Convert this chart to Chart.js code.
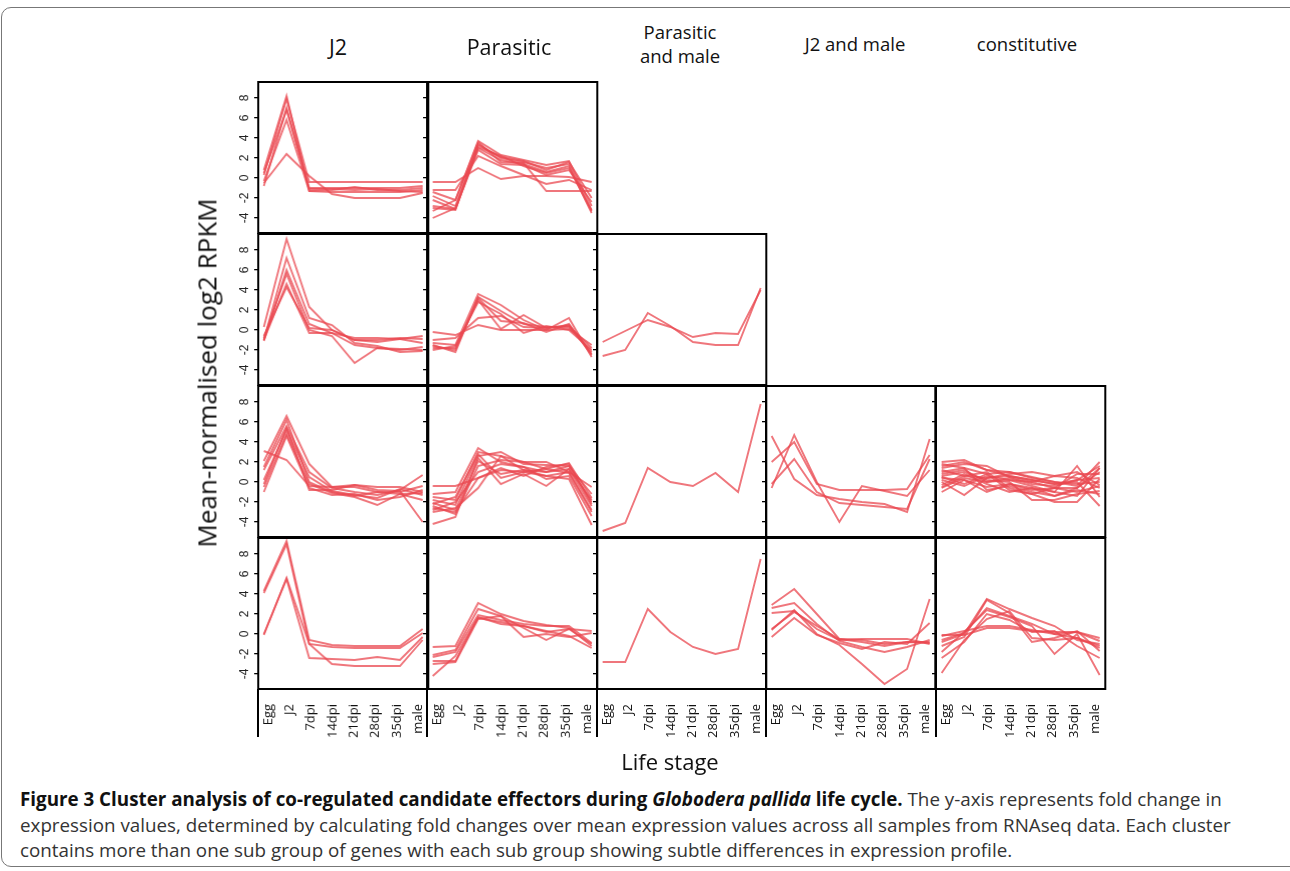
<!DOCTYPE html>
<html>
<head>
<meta charset="utf-8">
<script src="https://cdn.jsdelivr.net/npm/chart.js@4.4.1/dist/chart.umd.min.js"></script>
<style>
  html, body { margin: 0; padding: 0; background: #fff; width: 1290px; height: 871px; overflow: hidden; }
  body { position: relative; font-family: "Open Sans", sans-serif; color: #111; }
  .frame { position: absolute; left: 1px; top: 7px; width: 1310px; height: 860px; border: 1.5px solid #777; border-radius: 10px; box-sizing: border-box; }
  .title { position: absolute; text-align: center; transform: translate(-50%, -50%); white-space: nowrap; line-height: 1.35; }
  .vline { position: absolute; width: 2px; background: #000; }
  .caption { position: absolute; left: 20px; top: 787px; font-size: 18.8px; line-height: 25.5px; color: #333; white-space: nowrap; }
  .caption b { color: #111; }
</style>
</head>
<body>
<div class="frame"></div>
<script>
// ---------------- data ----------------
const stages = ['Egg', 'J2', '7dpi', '14dpi', '21dpi', '28dpi', '35dpi', 'male'];
const yTicks = [-4, -2, 0, 2, 4, 6, 8];
const clusterTitles = ['J2', 'Parasitic', 'Parasitic\nand male', 'J2 and male', 'constitutive'];
const yTitle = 'Mean-normalised log2 RPKM';
const xTitle = 'Life stage';

// row 1
const r1J2 = [
  [0.8, 8.2, -1.3, -1.2, -0.9, -1.2, -1.2, -1.0],
  [0.3, 7.9, -0.4, -0.4, -0.4, -0.4, -0.4, -0.4],
  [-0.8, 7.0, -1.0, -1.0, -1.0, -1.0, -1.0, -0.8],
  [-0.3, 5.8, -1.3, -1.4, -1.4, -1.4, -1.4, -1.2],
  [-0.5, 2.4, 0.2, -1.6, -2.0, -2.0, -2.0, -1.5],
  [0.5, 6.8, -1.1, -1.1, -1.2, -1.1, -1.3, -1.4]
];
const r1Parasitic = [
  [-0.4, -0.4, 1.0, -0.1, 0.2, 0.2, 0.1, -0.4],
  [-1.2, -1.2, 2.2, 1.2, 0.3, -0.6, -0.2, -1.2],
  [-1.4, -2.2, 3.7, 2.3, 1.8, 1.3, 1.7, -2.8],
  [-1.8, -2.8, 3.4, 2.0, 1.6, 1.0, 1.4, -3.2],
  [-2.2, -3.1, 3.0, 1.8, 1.4, 0.6, 1.2, -3.5],
  [-2.8, -3.1, 2.8, 1.4, 1.3, 0.3, 0.8, -2.4],
  [-3.0, -3.2, 3.3, 2.1, 1.7, 0.8, 1.6, -2.0],
  [-3.3, -2.2, 3.6, 1.6, 1.5, -1.3, -1.3, -1.3],
  [-4.0, -3.0, 3.1, 2.2, 1.2, 0.5, 1.0, -3.3]
];
// row 2
const r2J2 = [
  [0.3, 9.1, 2.3, 0.0, -1.0, -1.2, -0.9, -0.6],
  [-1.0, 7.2, 1.2, 0.5, -1.3, -1.6, -2.2, -2.1],
  [-1.1, 6.0, 0.6, -0.3, -1.5, -1.8, -2.0, -1.7],
  [-0.8, 5.6, 0.0, -0.6, -3.3, -1.8, -1.9, -2.0],
  [-1.0, 4.6, -0.3, -0.3, -0.8, -0.8, -0.9, -1.3],
  [-0.6, 4.3, 0.2, 0.0, -1.0, -1.0, -0.8, -0.9]
];
const r2Parasitic = [
  [-0.2, -0.5, 0.5, 0.0, 0.0, 0.0, 0.1, -1.5],
  [-1.0, -0.8, 1.2, 1.4, 0.3, 0.2, 0.4, -1.8],
  [-1.3, -1.5, 3.6, 2.5, 1.0, 0.0, 1.2, -2.7],
  [-1.5, -2.2, 3.3, 1.9, 0.6, 0.3, 0.3, -2.2],
  [-1.8, -1.8, 3.0, 0.1, 1.5, 0.2, 0.5, -2.5],
  [-2.0, -1.6, 2.8, 1.6, -0.3, 0.4, 0.0, -2.0],
  [-1.6, -2.0, 3.2, 0.9, 0.7, -0.2, 0.6, -2.4]
];
const r2ParasiticMale = [
  [-1.2, -0.1, 1.0, 0.3, -0.7, -0.3, -0.4, 4.0],
  [-2.6, -2.0, 1.7, 0.4, -1.2, -1.5, -1.5, 4.2]
];
// row 3
const r3J2 = [
  [3.1, 2.2, -0.4, -0.5, -0.3, -0.5, -0.5, -1.0],
  [2.1, 6.6, 1.8, -0.5, -0.5, -1.0, -1.0, -0.4],
  [1.2, 5.6, 1.0, -0.6, -1.0, -1.3, -0.8, 0.7],
  [0.2, 5.2, 0.5, -0.9, -1.3, -1.6, -0.7, -1.3],
  [-0.5, 4.8, -0.2, -1.1, -1.5, -2.3, -1.2, -1.8],
  [-1.0, 4.6, -0.6, -1.3, -1.2, -1.8, -1.5, -0.8],
  [-0.2, 5.4, -0.8, -0.8, -0.3, -0.8, -0.9, -4.0],
  [1.5, 6.2, 0.0, -1.0, -1.4, -1.0, -1.2, -1.1]
];
const r3Parasitic = [
  [-0.4, -0.4, 0.4, 1.2, 1.0, 0.6, 1.0, -0.5],
  [-1.2, -1.0, 3.4, 2.0, 1.5, 1.0, 1.6, -1.2],
  [-1.5, -1.8, 3.0, 2.6, 2.0, 1.3, 1.9, -1.6],
  [-1.8, -2.3, 2.6, 3.0, 1.8, 1.7, 1.6, -2.0],
  [-2.1, -2.8, 2.1, 0.8, 1.2, 1.0, 1.3, -2.4],
  [-2.4, -3.2, 1.6, 2.2, 2.0, 2.0, 1.0, -2.8],
  [-2.8, -2.0, 1.0, 1.8, 1.5, 0.3, 0.6, -3.4],
  [-3.0, -2.6, -0.6, 2.6, 1.2, 0.6, 0.3, -4.3],
  [-4.2, -3.5, 2.4, -0.2, 0.8, -0.4, 1.3, -1.8],
  [-2.2, -1.5, 2.8, 0.4, 1.0, 1.3, 0.9, -3.0],
  [-2.6, -3.0, 0.4, 1.4, 0.6, 1.5, 1.8, -2.2]
];
const r3ParasiticMale = [
  [-4.9, -4.1, 1.4, 0.0, -0.4, 0.9, -1.0, 7.8]
];
const r3J2Male = [
  [4.6, 0.3, -1.3, -1.7, -2.0, -2.2, -3.0, 4.3],
  [2.0, 4.0, -0.2, -0.8, -0.8, -0.8, -0.7, 2.7],
  [-0.6, 4.7, 0.0, -4.0, -0.4, -0.9, -1.4, 1.2],
  [-0.2, 2.3, -1.0, -2.1, -2.3, -2.5, -2.7, 2.3]
];
const r3Constitutive = [
  [2.0, 2.2, 1.2, 0.6, 0.2, -0.2, 0.2, 0.4],
  [1.8, 1.4, 0.8, 1.0, 0.4, 0.0, -0.4, 2.0],
  [1.4, 1.8, 1.6, 0.5, 0.0, -0.6, -0.6, 1.4],
  [1.2, 0.6, 0.4, 0.8, 1.0, 0.6, 1.0, -0.3],
  [0.8, 1.2, 0.0, 0.2, -0.4, -1.0, 1.6, -1.5],
  [0.4, 0.2, -0.5, -0.2, -0.6, -1.4, -0.6, 1.0],
  [0.0, -1.3, 0.4, 0.6, 0.2, -0.2, 0.0, -2.4],
  [-0.5, 0.6, 1.0, -0.6, -1.2, -2.0, -2.0, 0.3],
  [-1.0, 0.2, -1.0, -0.2, -0.8, -0.6, 0.8, 0.8],
  [0.6, 1.0, 0.2, 0.0, -1.8, -1.8, -1.2, -0.9],
  [1.6, 2.0, 1.2, 1.0, 0.5, 0.0, -0.2, 0.0],
  [-0.3, 0.8, -0.2, -1.0, -0.6, -1.0, -1.4, 1.4],
  [0.2, -0.4, 0.6, 0.2, 0.0, 0.6, 0.4, -0.6],
  [1.0, 1.4, -0.8, -0.4, -1.0, -1.4, -0.8, -1.2],
  [-0.6, 0.4, 0.0, 0.4, -0.2, -0.4, 0.2, 1.6],
  [0.5, -0.2, 0.8, -0.8, -1.2, -0.6, -1.0, -0.4]
];
// row 4
const r4J2 = [
  [4.3, 9.3, -0.6, -1.1, -1.2, -1.2, -1.2, 0.5],
  [4.1, 9.0, -1.0, -1.3, -1.4, -1.4, -1.4, 0.1],
  [0.0, 5.5, -2.4, -2.5, -2.6, -2.3, -2.6, -0.3],
  [-0.1, 5.6, -1.0, -3.0, -3.2, -3.2, -3.2, -0.6]
];
const r4Parasitic = [
  [-1.3, -1.2, 3.1, 2.0, 1.3, 0.9, 0.6, -1.2],
  [-2.1, -1.6, 2.5, 1.8, 0.6, -0.6, 0.5, 0.3],
  [-2.3, -1.8, 1.9, 1.4, 1.0, 0.8, 0.8, -0.9],
  [-2.7, -2.7, 1.7, 1.0, 0.8, 0.3, -0.2, -1.4],
  [-3.0, -2.8, 1.5, 1.8, -0.3, 0.0, -0.3, 0.1],
  [-4.2, -2.2, 1.6, 1.2, 0.8, 0.2, 0.5, -1.0]
];
const r4ParasiticMale = [
  [-2.8, -2.8, 2.5, 0.2, -1.3, -2.0, -1.5, 7.5]
];
const r4J2Male = [
  [2.9, 4.5, 2.0, -0.5, -0.8, -1.2, -0.8, -0.9],
  [2.6, 3.1, 1.0, -0.7, -1.3, -1.8, -1.3, -0.6],
  [2.1, 2.3, 0.5, -0.6, -0.5, -0.5, -0.5, -1.0],
  [0.4, 2.4, 0.0, -1.1, -3.0, -5.0, -3.5, 3.5],
  [-0.3, 1.6, -0.1, -0.9, -1.5, -0.8, -1.0, 1.1],
  [0.5, 2.2, 0.8, -0.5, -0.6, -1.0, -0.8, -0.8]
];
const r4Constitutive = [
  [-0.1, -0.1, 0.6, 0.6, 0.3, 0.2, 0.2, -0.4],
  [-0.2, 0.3, 0.8, 0.8, 0.4, 0.0, 0.2, -0.7],
  [-0.8, 0.0, 3.5, 2.5, 1.6, 0.8, -0.6, -1.0],
  [-1.2, -0.3, 3.4, 2.1, -0.8, -0.4, 0.3, -1.7],
  [-1.8, 0.2, 2.4, 1.7, 0.8, -2.0, 0.0, -4.1],
  [-2.4, -0.8, 2.0, 1.4, 0.2, 0.3, -1.2, -2.4],
  [-3.9, -0.6, 1.5, 2.3, -0.4, -0.6, -0.4, -1.4],
  [-0.6, 0.1, 2.6, 1.8, 1.0, 0.0, -0.4, -1.2]
];

// ---------------- layout ----------------
const colLeft = [258.3, 427.3, 596.7, 765.7, 935.7];
const rowTop = [82, 233.7, 385.7, 537.7];
const PW = 169.3, PH = 151;
const Y_MIN = -5.5, Y_MAX = 9.6;
const X_MIN = -0.25, X_MAX = 7.25;
// rotated stage labels sit slightly inside the data positions (as in the original lattice plot)
const LABEL_START = 0.193, LABEL_STEP = 0.9456;
const LINE = 'rgba(234, 72, 80, 0.75)';

const panels = [
  { r: 0, c: 0, data: r1J2 }, { r: 0, c: 1, data: r1Parasitic },
  { r: 1, c: 0, data: r2J2 }, { r: 1, c: 1, data: r2Parasitic }, { r: 1, c: 2, data: r2ParasiticMale },
  { r: 2, c: 0, data: r3J2 }, { r: 2, c: 1, data: r3Parasitic }, { r: 2, c: 2, data: r3ParasiticMale },
  { r: 2, c: 3, data: r3J2Male }, { r: 2, c: 4, data: r3Constitutive },
  { r: 3, c: 0, data: r4J2 }, { r: 3, c: 1, data: r4Parasitic }, { r: 3, c: 2, data: r4ParasiticMale },
  { r: 3, c: 3, data: r4J2Male }, { r: 3, c: 4, data: r4Constitutive }
];

const framePlugin = {
  id: 'panelFrame',
  afterDraw(chart) {
    const { ctx, chartArea: a } = chart;
    ctx.save();
    ctx.strokeStyle = '#000';
    ctx.lineWidth = 2;
    ctx.strokeRect(a.left, a.top, a.right - a.left, a.bottom - a.top);
    ctx.restore();
  }
};

function addText(txt, x, y, size, extra) {
  const d = document.createElement('div');
  d.className = 'title';
  d.style.left = x + 'px';
  d.style.top = y + 'px';
  d.style.fontSize = size + 'px';
  if (extra) d.style.cssText += extra;
  d.innerText = txt;
  document.body.appendChild(d);
}

function makePanel(p) {
  const isLeft = p.c === 0, isBottom = p.r === 3;
  const yw = isLeft ? 42 : 8, pad = 3, xh = isBottom ? 52 : 0;
  const L = colLeft[p.c], T = rowTop[p.r];
  const div = document.createElement('div');
  div.style.cssText = `position:absolute;left:${L - yw}px;top:${T - pad}px;width:${yw + PW + pad}px;height:${pad + PH + (isBottom ? xh : pad)}px;`;
  const cv = document.createElement('canvas');
  div.appendChild(cv);
  document.body.appendChild(div);
  new Chart(cv, {
    type: 'line',
    data: {
      datasets: p.data.map(vals => ({
        data: vals.map((v, i) => ({ x: i, y: v })),
        borderColor: LINE, borderWidth: 1.9, pointRadius: 0, tension: 0, fill: false
      }))
    },
    plugins: [framePlugin],
    options: {
      responsive: true, maintainAspectRatio: false, animation: false, events: [],
      layout: { padding: { top: pad, right: pad, bottom: isBottom ? 0 : pad, left: 0 } },
      plugins: { legend: { display: false }, tooltip: { enabled: false } },
      scales: {
        x: {
          type: 'linear', min: X_MIN, max: X_MAX, display: isBottom,
          afterBuildTicks: s => { s.ticks = stages.map((_, i) => ({ value: LABEL_START + i * LABEL_STEP })); },
          afterFit: s => { if (isBottom) s.height = xh; s.paddingLeft = 0; s.paddingRight = 0; },
          grid: { display: false }, border: { display: false },
          ticks: {
            minRotation: 90, maxRotation: 90, padding: 7, color: '#111',
            font: { family: 'Open Sans', size: 13 },
            callback: (v, idx) => stages[idx]
          }
        },
        y: {
          type: 'linear', min: Y_MIN, max: Y_MAX,
          afterBuildTicks: s => { s.ticks = yTicks.map(v => ({ value: v })); },
          afterFit: s => { s.width = yw; s.paddingTop = 0; s.paddingBottom = 0; },
          grid: { display: true, drawOnChartArea: false, drawTicks: true, tickLength: 4, color: '#000', lineWidth: 1.3 },
          border: { display: false },
          ticks: {
            display: isLeft, minRotation: 90, maxRotation: 90, crossAlign: 'center', padding: 4, color: '#222',
            font: { family: 'Liberation Sans', size: 12 }
          }
        }
      }
    }
  });
}

panels.forEach(makePanel);

// vertical frame lines below bottom row
colLeft.forEach(x => {
  const v = document.createElement('div');
  v.className = 'vline';
  v.style.left = (x - 1) + 'px';
  v.style.top = (rowTop[3] + PH) + 'px';
  v.style.height = '48px';
  document.body.appendChild(v);
});

// column titles
addText(clusterTitles[0], 338, 47, 21.5);
addText(clusterTitles[1], 509, 47, 21.5);
addText(clusterTitles[2], 680, 44.5, 18.5);
addText(clusterTitles[3], 855, 44, 18.5);
addText(clusterTitles[4], 1027, 44, 18.5);
// axis titles
addText(yTitle, 207, 373, 26, 'transform: translate(-50%, -50%) rotate(-90deg);');
addText(xTitle, 670, 762, 22);

// caption
const cap = document.createElement('div');
cap.className = 'caption';
cap.innerHTML = '<b>Figure 3 Cluster analysis of co-regulated candidate effectors during <i>Globodera pallida</i> life cycle.</b> The y-axis represents fold change in<br>' +
  'expression values, determined by calculating fold changes over mean expression values across all samples from RNAseq data. Each cluster<br>' +
  'contains more than one sub group of genes with each sub group showing subtle differences in expression profile.';
document.body.appendChild(cap);
</script>
</body>
</html>
